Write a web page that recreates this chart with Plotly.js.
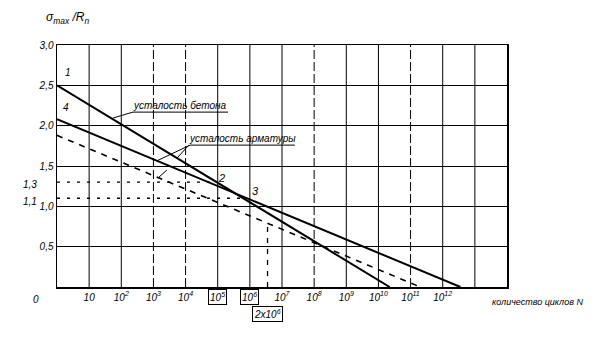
<!DOCTYPE html>
<html>
<head>
<meta charset="utf-8">
<script src="https://cdn.plot.ly/plotly-3.0.1.min.js"></script>
<style>html,body{margin:0;padding:0;background:#fff;}#chart{width:611px;height:337px;}</style>
</head>
<body>
<div id="chart"></div>
<script>
// x values are lg N (decades of cycle count), y values are sigma_max / R_n
const concreteLgN = [0, 10.35];
const concreteS   = [2.5, 0];
const line4LgN    = [0, 12.55];
const line4S      = [2.08, 0];
const rebarLgN    = [0, 11.3];
const rebarS      = [1.88, 0];
const level13LgN  = [0, 4.86];
const level13S    = [1.3, 1.3];
const level11LgN  = [0, 5.8];
const level11S    = [1.1, 1.1];
const markLgN     = [6.55, 6.55];
const markS       = [0, 0.79];

const xTickVals   = [1,2,3,4,5,6,7,8,9,10,11,12];
const xTickText   = ['10','10<sup>2</sup>','10<sup>3</sup>','10<sup>4</sup>','','','10<sup>7</sup>','10<sup>8</sup>','10<sup>9</sup>','10<sup>10</sup>','10<sup>11</sup>','10<sup>12</sup>'];
const boxedTicks  = [5, 6];
const boxedText   = ['10<sup>5</sup>','10<sup>6</sup>'];
const yTickVals   = [0.5,1.0,1.5,2.0,2.5,3.0];
const yTickText   = ['0,5','1,0','1,5','2,0','2,5','3,0'];
const vGrid       = [1,2,3,4,5,6,7,8,9,10,11,12,13];
const vGridDashed = [3,4,8,11];

const F = {family:'Liberation Sans, Arial, sans-serif', size:10, color:'#000', style:'italic'};
const solid = {color:'#000', width:2};
const thin  = {color:'#000', width:1};

const traces = [
  {x:concreteLgN, y:concreteS, mode:'lines', line:solid},
  {x:line4LgN, y:line4S, mode:'lines', line:solid},
  {x:rebarLgN, y:rebarS, mode:'lines', line:{color:'#000', width:1.6, dash:'6px,6px'}},
  {x:level13LgN, y:level13S, mode:'lines', line:{color:'#000', width:1.3, dash:'3px,7px'}},
  {x:level11LgN, y:level11S, mode:'lines', line:{color:'#000', width:1.3, dash:'3px,7px'}},
  {x:markLgN, y:markS, mode:'lines', line:{color:'#000', width:1.3, dash:'5px,6px'}},
  // leader lines for the labels
  {x:[1.74, 2.36, 5.32], y:[2.094, 2.168, 2.168], mode:'lines', line:thin},
  {x:[3.11, 4.14, 7.4], y:[1.564, 1.759, 1.759], mode:'lines', line:thin},
  {x:[3.74, 4.10], y:[1.60, 1.759], mode:'lines', line:thin},
  {x:[3.14, 3.42], y:[1.35, 1.45], mode:'lines', line:thin}
].map(t => Object.assign({hoverinfo:'skip', showlegend:false, cliponaxis:false}, t));

const shapes = vGrid.map(v => ({
  type:'line', xref:'x', yref:'y', x0:v, x1:v, y0:0, y1:3, layer:'below',
  line:{color:'#000', width:1, dash: vGridDashed.includes(v) ? '9px,3px' : 'solid'}
}));

const ann = [
  {xref:'paper', yref:'paper', x:-0.03, y:1.07, xanchor:'left', yanchor:'bottom', showarrow:false,
   text:'σ<sub>max</sub> /R<sub>n</sub>', font:Object.assign({}, F, {size:12})},
  {xref:'paper', yref:'paper', x:-0.035, y:0, xanchor:'right', yanchor:'top', yshift:-5, showarrow:false, text:'0', font:F},
  {xref:'paper', yref:'y', x:-0.04, y:1.3, xanchor:'right', yanchor:'middle', yshift:-2, showarrow:false, text:'1,3', font:F},
  {xref:'paper', yref:'y', x:-0.04, y:1.1, xanchor:'right', yanchor:'middle', yshift:-3, showarrow:false, text:'1,1', font:F},
  {xref:'paper', yref:'paper', x:0.962, y:0, xanchor:'left', yanchor:'top', yshift:-8, showarrow:false,
   text:'количество циклов N', font:Object.assign({}, F, {size:9})},
  {x:0.34, y:2.66, showarrow:false, text:'1', font:F},
  {x:0.28, y:2.22, showarrow:false, text:'4', font:F},
  {x:5.13, y:1.35, showarrow:false, text:'2', font:Object.assign({}, F, {size:11})},
  {x:6.16, y:1.19, showarrow:false, text:'3', font:Object.assign({}, F, {size:11})},
  {x:3.84, y:2.168, yanchor:'bottom', yshift:-1, showarrow:false, text:'усталость бетона', font:F},
  {x:5.77, y:1.759, yanchor:'bottom', yshift:-1, showarrow:false, text:'усталость арматуры', font:F},
  {x:6.55, y:0, yref:'y', yanchor:'top', yshift:-19, showarrow:false, text:'2x10<sup>6</sup>', font:F,
   bordercolor:'#000', borderwidth:1, borderpad:1}
].concat(boxedTicks.map((v, i) => ({
  x:v, y:0, yanchor:'top', yshift:-2, showarrow:false, text:boxedText[i], font:F,
  bordercolor:'#000', borderwidth:1, borderpad:1
})));

const layout = {
  width:611, height:337,
  margin:{l:57, r:104, t:45, b:50},
  paper_bgcolor:'#fff', plot_bgcolor:'#fff',
  showlegend:false,
  xaxis:{range:[0,14], showgrid:false, zeroline:false, showline:true, mirror:true,
         linecolor:'#000', linewidth:1.5, ticks:'', tickvals:xTickVals, ticktext:xTickText,
         tickfont:F, fixedrange:true},
  yaxis:{range:[0,3], showgrid:true, gridcolor:'#000', gridwidth:1, zeroline:false,
         showline:true, mirror:true, linecolor:'#000', linewidth:1.5, ticks:'',
         tickvals:yTickVals, ticktext:yTickText, tickfont:F, fixedrange:true},
  shapes:shapes,
  annotations:ann
};

Plotly.newPlot('chart', traces, layout, {staticPlot:true, displayModeBar:false});
</script>
</body>
</html>
